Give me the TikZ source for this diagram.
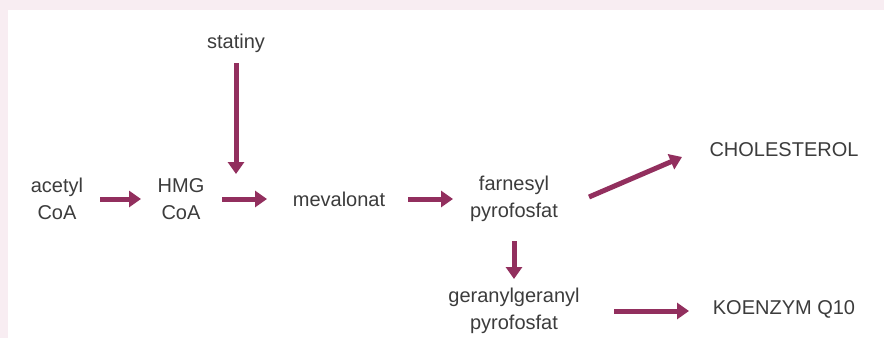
\documentclass[tikz,border=0pt]{standalone}
\usepackage{fontspec}
\setmainfont{Liberation Sans}
\usetikzlibrary{arrows.meta}
\definecolor{bordpink}{HTML}{F8EDF2}
\definecolor{arrowred}{HTML}{922F5E}
\definecolor{txt}{HTML}{3C3C3C}
\tikzset{
  lbl/.style={font=\fontsize{20}{27.5}\selectfont, text=txt, align=center, inner sep=0pt},
  flow/.style={draw=arrowred, line width=5pt, -{Triangle[length=12pt,width=16pt]}}
}
\begin{document}
\begin{tikzpicture}[x=1pt,y=-1pt]
\useasboundingbox (0,0) rectangle (884,338);
\fill[bordpink] (0,0) rectangle (884,338);
\fill[white] (8,10) rectangle (884,338);
\node[lbl] (statiny) at (236,43) {statiny};
\node[lbl] (acetyl) at (57,199) {acetyl\\CoA};
\node[lbl] (hmg) at (181,199) {HMG\\CoA};
\node[lbl] (meva) at (339,199) {mevalonat};
\node[lbl] (farn) at (514,199) {farnesyl\\pyrofosfat};
\node[lbl] (chol) at (784,150) {CHOLESTEROL};
\node[lbl] (gera) at (514,311) {geranylgeranyl\\pyrofosfat};
\node[lbl] (koen) at (784,309) {KOENZYM Q10};
\coordinate (s1) at (236,63);  \coordinate (e1) at (236,174);
\coordinate (s2) at (100,199); \coordinate (e2) at (141,199);
\coordinate (s3) at (222,199); \coordinate (e3) at (267,199);
\coordinate (s4) at (408,199); \coordinate (e4) at (453,199);
\coordinate (s5) at (589,197); \coordinate (e5) at (682,157);
\coordinate (s6) at (514,241); \coordinate (e6) at (514,279);
\coordinate (s7) at (614,311); \coordinate (e7) at (689,311);
\draw[flow] (s1) -- (e1);
\draw[flow] (s2) -- (e2);
\draw[flow] (s3) -- (e3);
\draw[flow] (s4) -- (e4);
\draw[flow] (s5) -- (e5);
\draw[flow] (s6) -- (e6);
\draw[flow] (s7) -- (e7);
\end{tikzpicture}
\end{document}
